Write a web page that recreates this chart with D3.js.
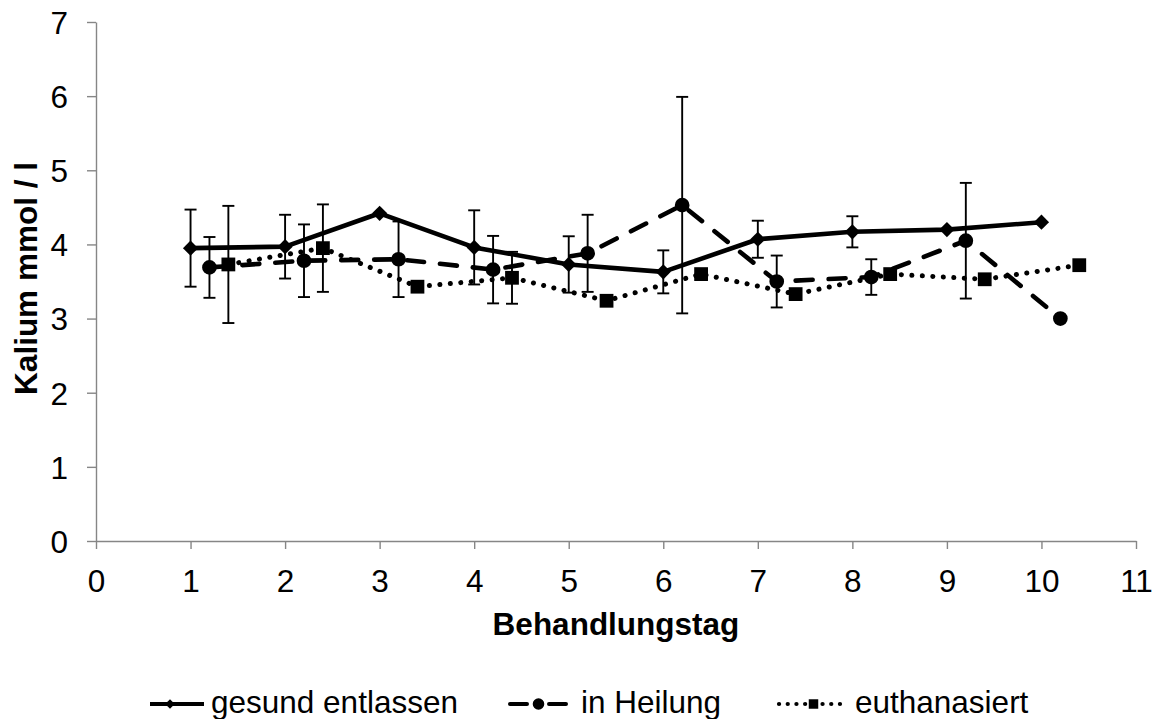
<!DOCTYPE html>
<html>
<head>
<meta charset="utf-8">
<script src="https://cdn.jsdelivr.net/npm/d3@7"></script>
<style>
  html, body { margin: 0; padding: 0; background: #fff; }
  svg { display: block; font-family: "Liberation Sans", Arial, sans-serif; }
</style>
</head>
<body>
<svg id="chart" width="1158" height="719"></svg>
<script>
// Behandlungstage (1–10) and Kalium values (mmol/l), mean ± SD
const days = [1, 2, 3, 4, 5, 6, 7, 8, 9, 10];

const gesundMean = [3.95, 3.97, 4.42, 3.96, 3.73, 3.63, 4.07, 4.17, 4.20, 4.30];
const gesundSD   = [0.52, 0.43, null, 0.50, 0.38, 0.29, 0.25, 0.21, null, null];

const heilungMean = [3.69, 3.78, 3.80, 3.66, 3.88, 4.53, 3.50, 3.56, 4.05, 3.00];
const heilungSD   = [0.41, 0.49, 0.51, 0.455, 0.52, 1.46, 0.35, 0.24, 0.78, null];

const euthMean = [3.73, 3.95, 3.43, 3.55, 3.24, 3.60, 3.33, 3.60, 3.53, 3.72];
const euthSD   = [0.79, 0.59, null, 0.35, null, null, null, null, null, null];

const seriesNames = ["gesund entlassen", "in Heilung", "euthanasiert"];
const seriesOffsets = [0, 0.2, 0.4];

const xTicks = [0, 1, 2, 3, 4, 5, 6, 7, 8, 9, 10, 11];
const yTicks = [0, 1, 2, 3, 4, 5, 6, 7];

const xTitle = "Behandlungstag";
const yTitle = "Kalium mmol / l";

const svg = d3.select("#chart");
const margin = { left: 96, right: 22, top: 22, bottom: 178 };
const W = 1158, H = 719;

const x = d3.scaleLinear().domain([0, 11]).range([margin.left, W - margin.right]);
const y = d3.scaleLinear().domain([0, 7]).range([H - margin.bottom, margin.top]);

const axisColor = "#868686";
const fontSize = 31.5;

// Axes
const xAxis = svg.append("g")
  .attr("transform", `translate(0,${y(0)})`)
  .call(d3.axisBottom(x).tickValues(xTicks).tickSize(8).tickSizeOuter(0).tickFormat(d3.format("d")));
const yAxis = svg.append("g")
  .attr("transform", `translate(${x(0)},0)`)
  .call(d3.axisLeft(y).tickValues(yTicks).tickSize(9).tickSizeOuter(0).tickFormat(d3.format("d")));

[xAxis, yAxis].forEach(g => {
  g.select(".domain").attr("stroke", axisColor).attr("stroke-width", 1.4);
  g.selectAll(".tick line").attr("stroke", axisColor).attr("stroke-width", 1.4);
  g.selectAll(".tick text").attr("fill", "#000").attr("font-size", fontSize)
    .attr("font-family", "Liberation Sans, Arial, sans-serif");
});
xAxis.selectAll(".tick text").attr("dy", null).attr("y", 51);
yAxis.selectAll(".tick text").attr("x", -28).attr("dy", "0.36em");

// Axis titles
svg.append("text")
  .attr("x", (x(0) + x(11)) / 2).attr("y", 635)
  .attr("text-anchor", "middle").attr("font-weight", "bold").attr("font-size", fontSize)
  .text(xTitle);
svg.append("text")
  .attr("transform", `translate(37,${(y(0) + y(7)) / 2 - 3}) rotate(-90)`)
  .attr("text-anchor", "middle").attr("font-weight", "bold").attr("font-size", fontSize)
  .text(yTitle);

// Build series records
const means = [gesundMean, heilungMean, euthMean];
const sds = [gesundSD, heilungSD, euthSD];
const series = means.map((m, si) => days.map((d, i) => ({
  x: d + seriesOffsets[si], v: m[i], sd: sds[si][i]
})));

// Error bars (drawn beneath the lines)
const errG = svg.append("g").attr("stroke", "#000").attr("stroke-width", 1.9);
series.forEach(pts => {
  pts.filter(p => p.sd != null).forEach(p => {
    const cx = x(p.x), top = y(p.v + p.sd), bot = y(p.v - p.sd);
    errG.append("line").attr("x1", cx).attr("x2", cx).attr("y1", top).attr("y2", bot);
    errG.append("line").attr("x1", cx - 6).attr("x2", cx + 6).attr("y1", top).attr("y2", top);
    errG.append("line").attr("x1", cx - 6).attr("x2", cx + 6).attr("y1", bot).attr("y2", bot);
  });
});

// Line styles per series
const lineStyles = [
  { dash: null, cap: "butt", width: 4.6 },
  { dash: "17,16", cap: "round", width: 4.6 },
  { dash: "0.1,10.4", cap: "round", width: 5 }
];

const line = d3.line().x(p => x(p.x)).y(p => y(p.v));
series.forEach((pts, si) => {
  svg.append("path")
    .datum(pts)
    .attr("d", line)
    .attr("fill", "none")
    .attr("stroke", "#000")
    .attr("stroke-width", lineStyles[si].width)
    .attr("stroke-linejoin", "round")
    .attr("stroke-linecap", lineStyles[si].cap)
    .attr("stroke-dasharray", lineStyles[si].dash);
});

// Marker drawing helpers
const markerSymbols = [d3.symbolDiamond2, d3.symbolCircle, d3.symbolSquare];
const markerSizes = [150, 170, 190];
const legendMarkerSizes = [60, 105, 90];

function drawMarker(g, si, cx, cy, size) {
  if (si === 0) {
    const r = Math.sqrt(size) * 0.62;
    g.append("path")
      .attr("d", `M${cx},${cy - r}L${cx + r},${cy}L${cx},${cy + r}L${cx - r},${cy}Z`)
      .attr("fill", "#000");
  } else {
    g.append("path")
      .attr("d", d3.symbol().type(markerSymbols[si]).size(size)())
      .attr("transform", `translate(${cx},${cy})`)
      .attr("fill", "#000");
  }
}

const markG = svg.append("g");
series.forEach((pts, si) => {
  pts.forEach(p => drawMarker(markG, si, x(p.x), y(p.v), markerSizes[si]));
});

// Legend
const legendY = 704;
const legendItems = [
  { x0: 150, x1: 204, textX: 211 },
  { x0: 510, x1: 567, textX: 581 },
  { x0: 779, x1: 848, textX: 855 }
];
const legendDash = [null, "17,22", "0.1,8.6"];
const legendWidth = [4, 4, 4.2];
const legG = svg.append("g");
legendItems.forEach((it, si) => {
  legG.append("line")
    .attr("x1", it.x0).attr("x2", it.x1)
    .attr("y1", legendY).attr("y2", legendY)
    .attr("stroke", "#000")
    .attr("stroke-width", legendWidth[si])
    .attr("stroke-linecap", si === 0 ? "butt" : "round")
    .attr("stroke-dasharray", legendDash[si]);
  drawMarker(legG, si, (it.x0 + it.x1) / 2 - (si === 0 ? 7 : 0), legendY, legendMarkerSizes[si]);
  legG.append("text")
    .attr("x", it.textX).attr("y", 713)
    .attr("font-size", fontSize)
    .text(seriesNames[si]);
});
</script>
</body>
</html>
